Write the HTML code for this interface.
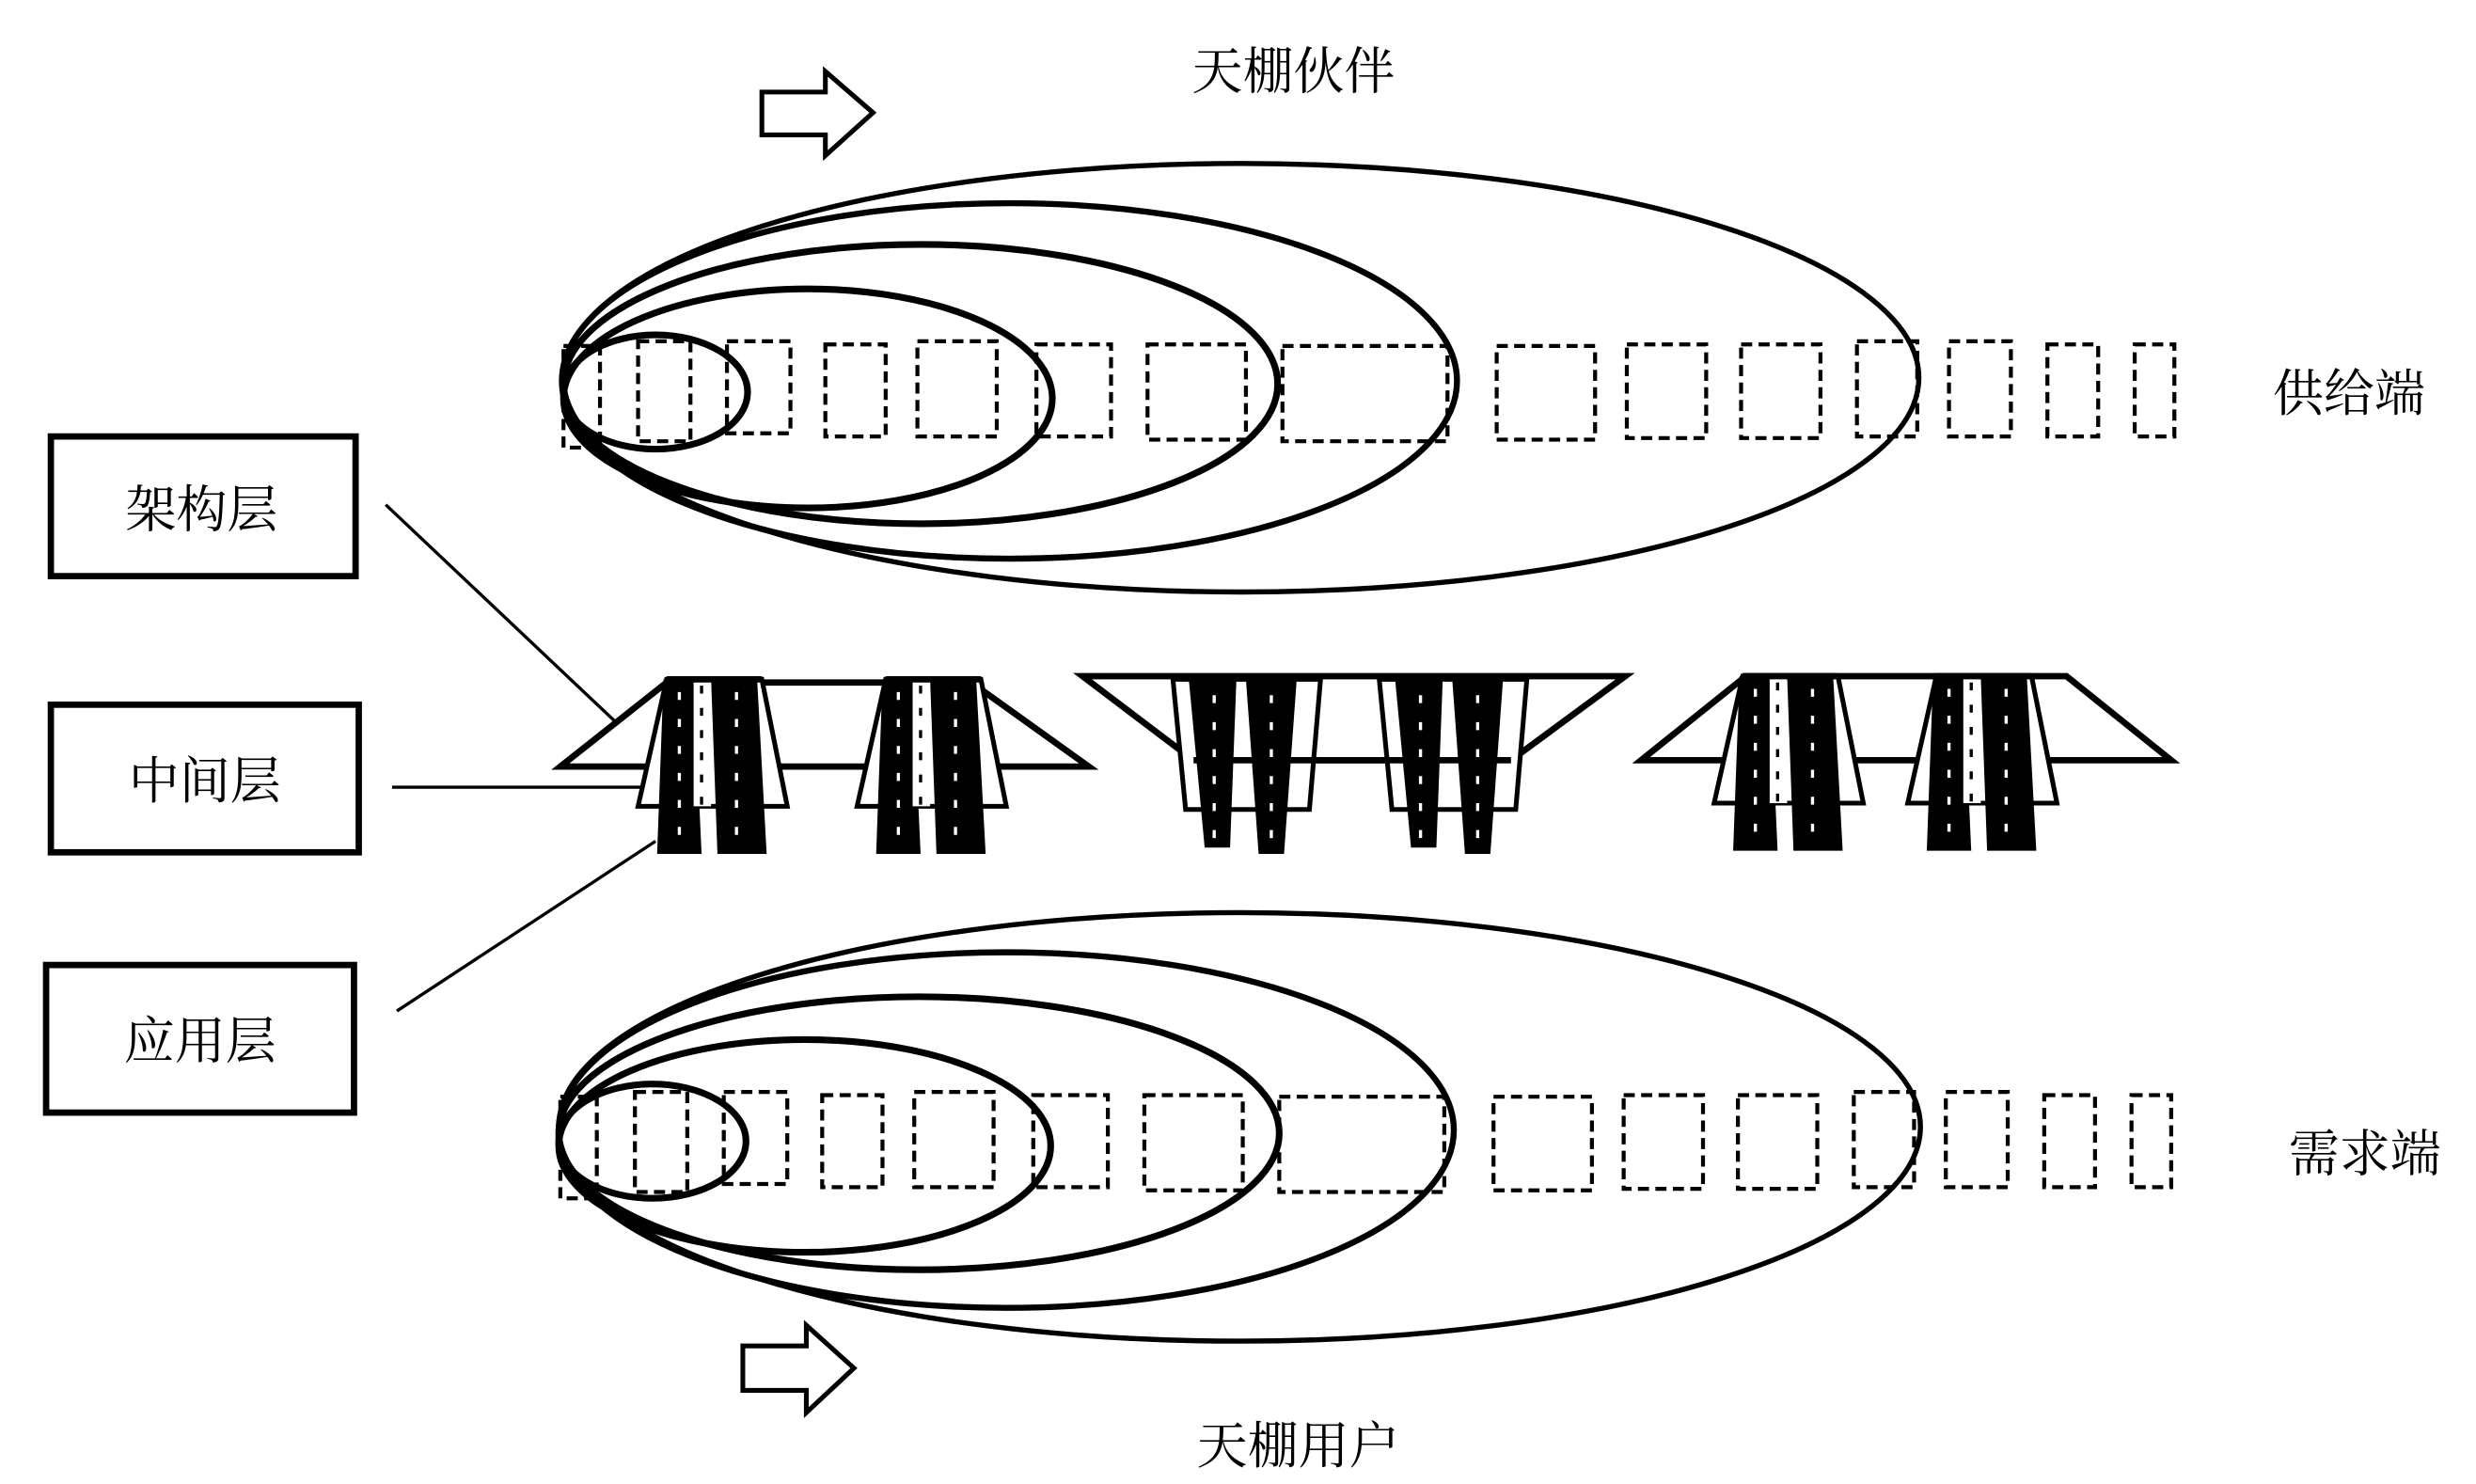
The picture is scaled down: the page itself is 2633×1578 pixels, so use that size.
<!DOCTYPE html>
<html><head><meta charset="utf-8"><style>
html,body{margin:0;padding:0;background:#fff;}
svg{display:block;}
text{font-family:"Liberation Serif","Noto Serif CJK SC",serif;font-size:32px;fill:#000;}
</style></head><body>
<svg width="2633" height="1578" viewBox="0 0 1560 935" xmlns="http://www.w3.org/2000/svg">
<defs>
  <g id="up">
    <polygon points="-30,0 30,0 46,80 -48,80" fill="#fff" stroke="#000" stroke-width="3"/>
    <polygon points="-32,0 -13,0 -8,110 -36,110" fill="#000"/>
    <polygon points="-2,0 27,0 33,110 2,110" fill="#000"/>
    <rect x="-13" y="0" width="11" height="80" fill="#fff"/>
    <line x1="-8" y1="4" x2="-8" y2="80" stroke="#000" stroke-width="2" stroke-dasharray="5 9"/>
    <line x1="-22" y1="8" x2="-22" y2="108" stroke="#fff" stroke-width="2" stroke-dasharray="5 12"/>
    <line x1="14" y1="8" x2="14" y2="108" stroke="#fff" stroke-width="2" stroke-dasharray="5 12"/>
    <line x1="-30" y1="0" x2="30" y2="0" stroke="#000" stroke-width="4"/>
  </g>
  <g id="dn">
    <polygon points="-48,0 45,0 38,82 -40,82" fill="#fff" stroke="#000" stroke-width="3"/>
    <polygon points="-38,0 -8,0 -12,106 -28,106" fill="#000"/>
    <polygon points="-2,0 30,0 22,110 6,110" fill="#000"/>
    <line x1="-22" y1="10" x2="-22" y2="100" stroke="#fff" stroke-width="2" stroke-dasharray="5 12"/>
    <line x1="14" y1="10" x2="14" y2="104" stroke="#fff" stroke-width="2" stroke-dasharray="5 12"/>
  </g>
  <g id="row" fill="none" stroke="#000" stroke-width="2.5" stroke-dasharray="7 4">
    <rect x="355" y="218" width="23" height="64"/>
    <rect x="402" y="215" width="33" height="63"/>
    <rect x="458" y="215" width="40" height="58"/>
    <rect x="520" y="217" width="38" height="58"/>
    <rect x="578" y="215" width="50" height="60"/>
    <rect x="653" y="217" width="47" height="58"/>
    <rect x="723" y="217" width="62" height="60"/>
    <rect x="808" y="218" width="104" height="60"/>
    <rect x="943" y="218" width="62" height="59"/>
    <rect x="1025" y="217" width="50" height="59"/>
    <rect x="1097" y="217" width="50" height="59"/>
    <rect x="1170" y="215" width="38" height="60"/>
    <rect x="1228" y="215" width="39" height="60"/>
    <rect x="1290" y="217" width="32" height="58"/>
    <rect x="1345" y="217" width="25" height="58"/>
  </g>
</defs>

<use href="#row"/>
<g fill="none" stroke="#000">
  <ellipse cx="782" cy="238" rx="427" ry="135" stroke-width="3.2"/>
  <ellipse cx="636" cy="240" rx="282" ry="112" stroke-width="3.8"/>
  <ellipse cx="580" cy="242" rx="225" ry="88" stroke-width="4.2"/>
  <ellipse cx="509" cy="251" rx="154" ry="69" stroke-width="4.2"/>
  <ellipse cx="413" cy="247" rx="58" ry="36" stroke-width="4.2"/>
</g>
<use href="#row" transform="translate(-2,473)"/>
<g fill="none" stroke="#000">
  <ellipse cx="781" cy="710" rx="429" ry="135" stroke-width="3.2"/>
  <ellipse cx="634" cy="712" rx="282" ry="112" stroke-width="3.8"/>
  <ellipse cx="579" cy="714" rx="227" ry="86" stroke-width="4.2"/>
  <ellipse cx="507" cy="722" rx="155" ry="67" stroke-width="4.2"/>
  <ellipse cx="411" cy="719" rx="59" ry="36" stroke-width="4.2"/>
</g>

<polygon points="480,58 520,58 520,45 550,71 520,98 520,85 480,85" fill="#fff" stroke="#000" stroke-width="3"/>
<polygon points="468,848 508,848 508,835 538,862 508,890 508,876 468,876" fill="#fff" stroke="#000" stroke-width="3"/>

<text x="815" y="56" text-anchor="middle">天棚伙伴</text>
<text x="1480" y="259" text-anchor="middle">供给端</text>
<text x="1490" y="738" text-anchor="middle">需求端</text>
<text x="818" y="922" text-anchor="middle">天棚用户</text>

<g fill="#fff" stroke="#000" stroke-width="4">
  <rect x="32" y="275" width="192" height="88"/>
  <rect x="32" y="444" width="194" height="93"/>
  <rect x="29" y="608" width="194" height="93"/>
</g>
<text x="127" y="332" text-anchor="middle">架构层</text>
<text x="129" y="503" text-anchor="middle">中间层</text>
<text x="126" y="667" text-anchor="middle">应用层</text>
<g stroke="#000" stroke-width="2">
  <line x1="243" y1="318" x2="388" y2="455"/>
  <line x1="247" y1="496" x2="405" y2="496"/>
  <line x1="250" y1="637" x2="413" y2="530"/>
</g>

<polygon points="420,430 612,430 686,483 353,483" fill="#fff" stroke="#000" stroke-width="4"/>
<use href="#up" transform="translate(450,428)"/>
<use href="#up" transform="translate(588,428)"/>
<polygon points="682,426 1024,426 952,479 752,479" fill="#fff" stroke="#000" stroke-width="4"/>
<use href="#dn" transform="translate(787,428)"/>
<use href="#dn" transform="translate(917,428)"/>
<line x1="752" y1="479" x2="952" y2="479" stroke="#000" stroke-width="4"/>
<polygon points="1100,426 1302,426 1368,479 1034,479" fill="#fff" stroke="#000" stroke-width="4"/>
<use href="#up" transform="translate(1128,426)"/>
<use href="#up" transform="translate(1250,426)"/>
</svg>
</body></html>
